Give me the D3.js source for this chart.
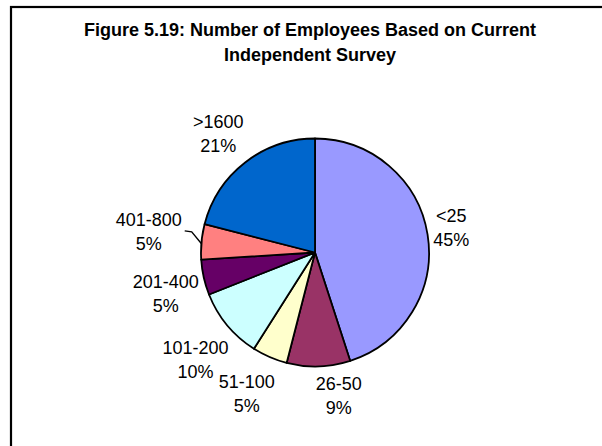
<!DOCTYPE html>
<html>
<head>
<meta charset="utf-8">
<script src="https://cdn.jsdelivr.net/npm/d3@7"></script>
<style>
  html, body { margin: 0; padding: 0; background: #fff; }
  svg { display: block; }
</style>
</head>
<body>
<svg id="chart" width="602" height="446"></svg>
<script>
// Survey data: share of firms by number of employees (percent)
const categories = ["<25", "26-50", "51-100", "101-200", "201-400", "401-800", ">1600"];
const percents   = [45, 9, 5, 10, 5, 5, 21];
const colors     = ["#9999FF", "#993366", "#FFFFCC", "#CCFFFF", "#660066", "#FF8080", "#0066CC"];
const titleLines = ["Figure 5.19: Number of Employees Based on Current", "Independent Survey"];

const width = 602, height = 446;
const cx = 315, cy = 252.5, radius = 114;
const fontFamily = "'Liberation Sans', Arial, Helvetica, sans-serif";
const labelSize = 18;

// Small hand adjustments to the automatic label placement [dx, dy]
const labelNudge = [[-6, -2], [19, -2], [-7, 8], [3, 15], [6, 9], [-8, -7], [-4, -4]];
// Slices whose label is joined to the pie with a leader line
const leaderFor = new Set(["401-800"]);

const svg = d3.select("#chart");

// Chart frame (runs off the right and bottom edges)
svg.append("rect")
  .attr("x", 11).attr("y", 7)
  .attr("width", 700).attr("height", 600)
  .attr("fill", "#fff")
  .attr("stroke", "#000")
  .attr("stroke-width", 2.2);

// Title
svg.append("g")
  .selectAll("text")
  .data(titleLines)
  .join("text")
  .attr("x", 310)
  .attr("y", (d, i) => 36 + i * 25)
  .attr("text-anchor", "middle")
  .attr("font-family", fontFamily)
  .attr("font-weight", "bold")
  .attr("font-size", 18)
  .attr("fill", "#000")
  .text(d => d);

const data = categories.map((c, i) => ({ category: c, value: percents[i], color: colors[i] }));

const pie = d3.pie().value(d => d.value).sort(null).startAngle(0).endAngle(2 * Math.PI);
const arcs = pie(data);
const arc = d3.arc().innerRadius(0).outerRadius(radius);

const g = svg.append("g").attr("transform", `translate(${cx},${cy})`);

g.selectAll("path.slice")
  .data(arcs)
  .join("path")
  .attr("class", "slice")
  .attr("d", arc)
  .attr("fill", d => d.data.color)
  .attr("stroke", "#000")
  .attr("stroke-width", 1.8)
  .attr("stroke-linejoin", "round");

// Labels: category on the first line, percentage on the second
const measure = svg.append("text")
  .attr("font-family", fontFamily)
  .attr("font-size", labelSize)
  .attr("visibility", "hidden");
function textWidth(s) { measure.text(s); return measure.node().getComputedTextLength(); }

const gap = 12, boxH = 38, lineGap = 24, capHalf = 0.716 * labelSize / 2;

const labels = g.append("g");
arcs.forEach((d, i) => {
  const mid = (d.startAngle + d.endAngle) / 2;
  const s = Math.sin(mid), c = -Math.cos(mid);
  const line1 = d.data.category;
  const line2 = d.data.value + "%";
  const w = Math.max(textWidth(line1), textWidth(line2));
  const px = (radius + gap) * s, py = (radius + gap) * c;
  const lx = px + s * w / 2 + labelNudge[i][0];
  const ly = py + c * boxH / 2 + labelNudge[i][1];

  labels.append("text")
    .attr("x", lx).attr("y", ly - lineGap / 2 + capHalf)
    .attr("text-anchor", "middle")
    .attr("font-family", fontFamily)
    .attr("font-size", labelSize)
    .attr("fill", "#000")
    .text(line1);
  labels.append("text")
    .attr("x", lx).attr("y", ly + lineGap / 2 + capHalf)
    .attr("text-anchor", "middle")
    .attr("font-family", fontFamily)
    .attr("font-size", labelSize)
    .attr("fill", "#000")
    .text(line2);

  if (leaderFor.has(line1)) {
    const ex = radius * s, ey = radius * c + 2;
    const sx = lx + w / 2 + 3, sy = ly - 1;
    const kx = sx + 7, ky = sy + 1;
    labels.append("polyline")
      .attr("points", [[sx, sy], [kx, ky], [ex, ey]].map(p => p.join(",")).join(" "))
      .attr("fill", "none")
      .attr("stroke", "#000")
      .attr("stroke-width", 1.4);
  }
});
measure.remove();
</script>
</body>
</html>
